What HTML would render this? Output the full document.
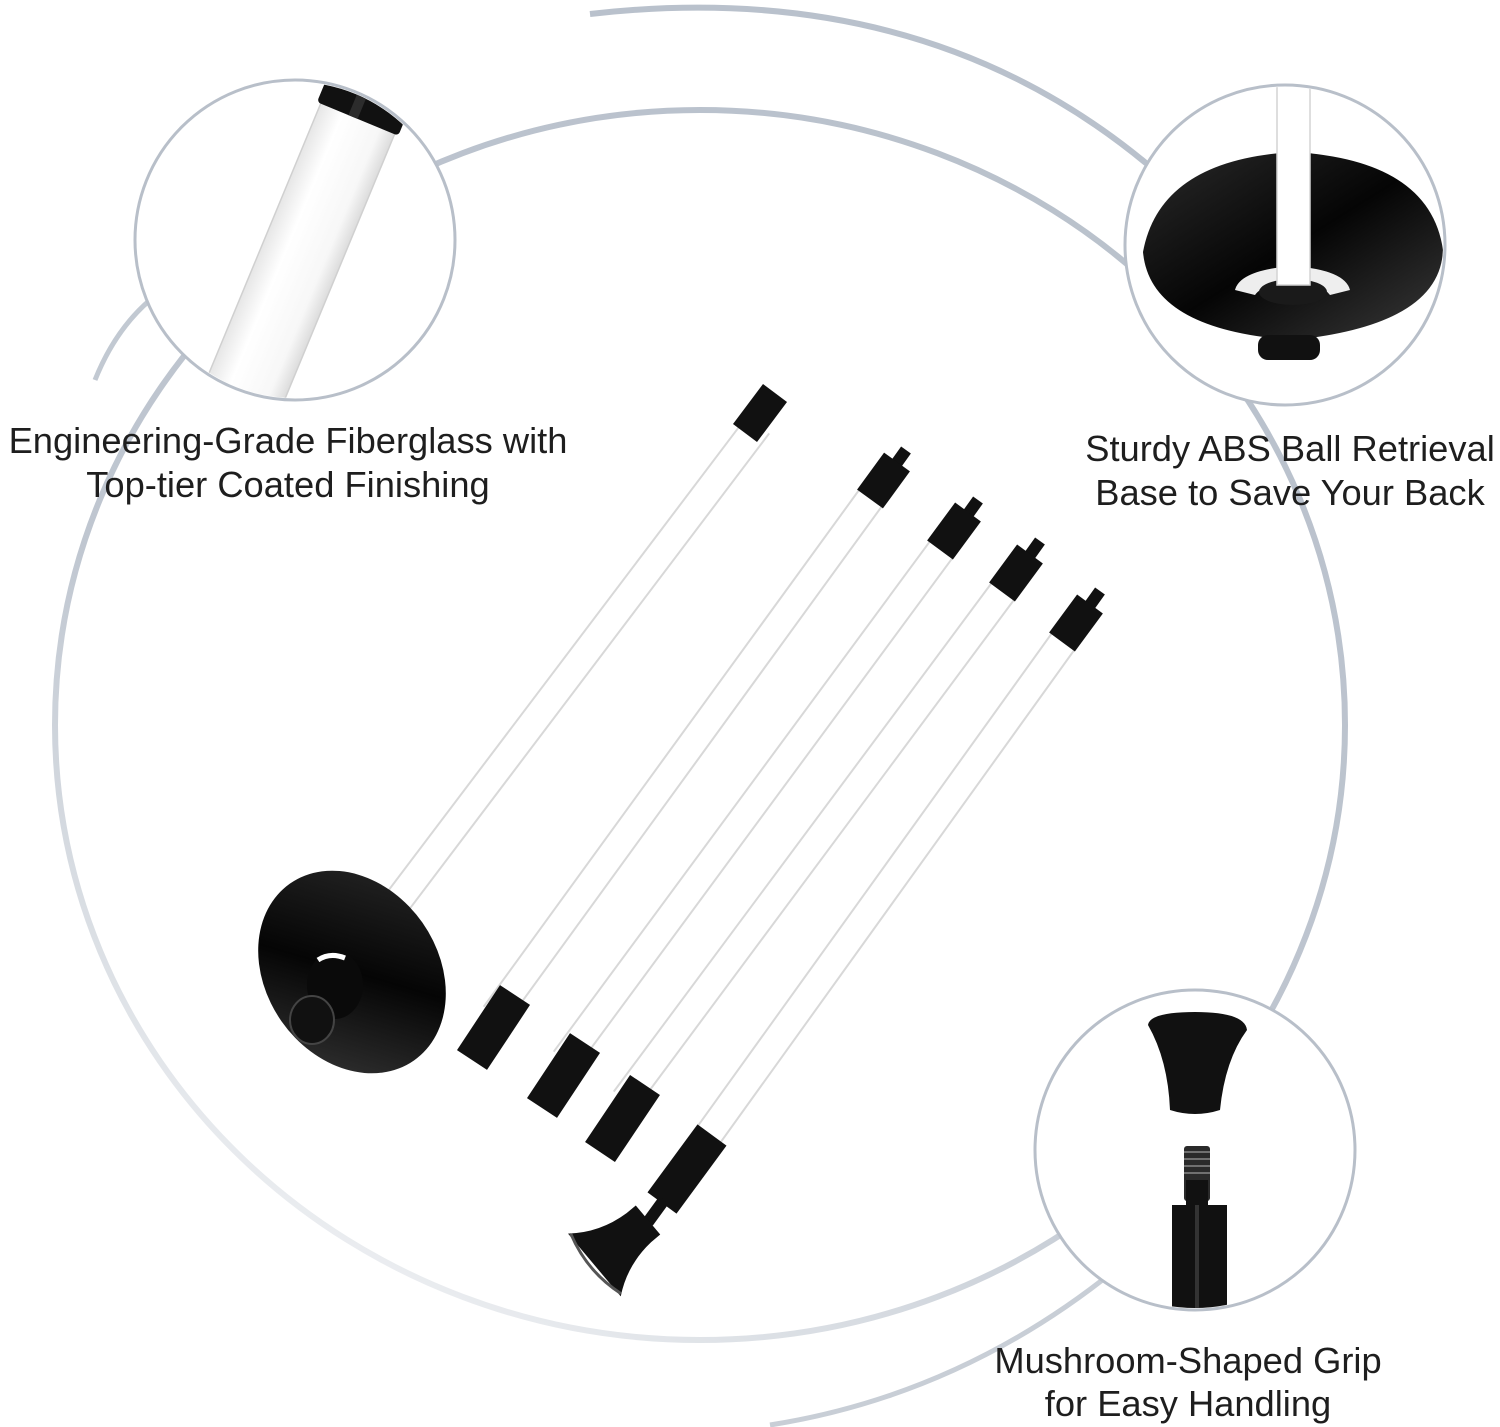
<!DOCTYPE html>
<html><head><meta charset="utf-8"><style>
html,body{margin:0;padding:0;background:#fff;overflow:hidden}
svg{display:block}
text{font-family:"Liberation Sans",sans-serif;font-size:36.3px;fill:#1e1e1e}
</style></head><body>
<svg width="1500" height="1427" viewBox="0 0 1500 1427" xmlns="http://www.w3.org/2000/svg">
<defs>
<linearGradient id="disk" x1="0" y1="0" x2="1" y2="1"><stop offset="0" stop-color="#2a2a2a"/><stop offset="0.5" stop-color="#050505"/><stop offset="1" stop-color="#3a3a3a"/></linearGradient>
<linearGradient id="fadeA" x1="0.8" y1="0" x2="0.2" y2="1"><stop offset="0" stop-color="#b9c1cc"/><stop offset="0.6" stop-color="#bfc6d0"/><stop offset="0.85" stop-color="#dde1e6"/><stop offset="1" stop-color="#f5f6f8"/></linearGradient>
<linearGradient id="rodg" x1="0" y1="0" x2="1" y2="0"><stop offset="0" stop-color="#e6e6e6"/><stop offset="0.3" stop-color="#fff"/><stop offset="0.8" stop-color="#f7f7f7"/><stop offset="1" stop-color="#dcdcdc"/></linearGradient>
</defs>
<ellipse cx="700" cy="725" rx="645" ry="615" fill="none" stroke="url(#fadeA)" stroke-width="6"/>
<path d="M590 14 Q930 -25 1160 175" fill="none" stroke="#b9c1cc" stroke-width="6"/>
<path d="M150 300 Q115 330 95 380" fill="none" stroke="#c2c9d2" stroke-width="5"/>
<path d="M1115 1270 Q960 1395 770 1425" fill="none" stroke="#c8ced6" stroke-width="5"/>

<circle cx="295" cy="240" r="160" fill="#fff" stroke="#b8bfc9" stroke-width="3"/>
<circle cx="1285" cy="245" r="160" fill="#fff" stroke="#b8bfc9" stroke-width="3"/>
<circle cx="1195" cy="1150" r="160" fill="#fff" stroke="#b8bfc9" stroke-width="3"/>

<clipPath id="c1"><circle cx="295" cy="240" r="158"/></clipPath>
<g clip-path="url(#c1)">
<g transform="translate(358,118) rotate(22.5)">
<rect x="-40" y="0" width="80" height="360" fill="url(#rodg)" stroke="#d0d0d0" stroke-width="1.5"/>
<rect x="-44" y="-45" width="88" height="46" rx="4" fill="#111"/>
<rect x="-10" y="-45" width="10" height="46" fill="#2c2c2c"/>
</g>
</g>
<clipPath id="c2"><circle cx="1285" cy="245" r="158"/></clipPath>
<g clip-path="url(#c2)">
<path d="M1143 252 Q1160 160 1293 152 Q1430 160 1443 250 Q1440 325 1293 340 Q1150 330 1143 252 Z" fill="url(#disk)"/>
<rect x="1258" y="335" width="62" height="25" rx="10" fill="#111"/>
<path d="M1235 290 Q1240 270 1293 266 Q1345 270 1350 290 L1330 295 Q1320 282 1293 282 Q1262 284 1255 295 Z" fill="#eee"/>
<ellipse cx="1293" cy="292" rx="34" ry="13" fill="#1a1a1a"/>
<rect x="1277" y="60" width="33" height="225" fill="#fff" stroke="#d4d4d4" stroke-width="1.5"/>
</g>
<clipPath id="c3"><circle cx="1195" cy="1150" r="158"/></clipPath>
<g clip-path="url(#c3)">
<path d="M1148 1025 Q1150 1012 1195 1012 Q1245 1012 1247 1030 Q1225 1060 1220 1110 Q1195 1118 1170 1110 Q1168 1060 1148 1025 Z" fill="#111"/>
<rect x="1184" y="1146" width="26" height="55" rx="3" fill="#2a2a2a"/>
<g stroke="#888" stroke-width="1.5"><line x1="1184" y1="1152" x2="1210" y2="1152"/><line x1="1184" y1="1159" x2="1210" y2="1159"/><line x1="1184" y1="1166" x2="1210" y2="1166"/><line x1="1184" y1="1173" x2="1210" y2="1173"/></g>
<rect x="1186" y="1180" width="22" height="30" fill="#111"/>
<rect x="1172" y="1205" width="55" height="110" fill="#111"/>
<rect x="1195" y="1205" width="4" height="110" fill="#333"/>
</g>

<g stroke-linecap="butt">
<line x1="758" y1="425" x2="395" y2="905" stroke="#d8d8d8" stroke-width="30"/>
<line x1="758" y1="425" x2="395" y2="905" stroke="#fff" stroke-width="26"/>
<line x1="775" y1="393" x2="745" y2="433" stroke="#111" stroke-width="30"/>
</g>
<ellipse cx="352" cy="972" rx="108" ry="86" transform="rotate(55 352 972)" fill="url(#disk)"/>
<ellipse cx="335" cy="985" rx="28" ry="34" fill="#0a0a0a"/>
<path d="M318 960 Q330 952 345 958" fill="none" stroke="#fff" stroke-width="5"/>
<ellipse cx="312" cy="1020" rx="22" ry="24" fill="#111" stroke="#444" stroke-width="2"/>
<g stroke-linecap="butt">
<line x1="880" y1="485" x2="495" y2="1015" stroke="#d8d8d8" stroke-width="30"/>
<line x1="880" y1="485" x2="495" y2="1015" stroke="#fff" stroke-width="26"/>
<line x1="906" y1="450" x2="896" y2="464" stroke="#111" stroke-width="12"/>
<line x1="897" y1="462" x2="870" y2="499" stroke="#111" stroke-width="32"/>
<line x1="515" y1="995" x2="472" y2="1060" stroke="#111" stroke-width="36"/>
<line x1="952" y1="535" x2="565" y2="1060" stroke="#d8d8d8" stroke-width="30"/>
<line x1="952" y1="535" x2="565" y2="1060" stroke="#fff" stroke-width="26"/>
<line x1="978" y1="500" x2="968" y2="514" stroke="#111" stroke-width="12"/>
<line x1="968" y1="512" x2="940" y2="550" stroke="#111" stroke-width="32"/>
<line x1="585" y1="1043" x2="542" y2="1108" stroke="#111" stroke-width="36"/>
<line x1="1015" y1="575" x2="625" y2="1100" stroke="#d8d8d8" stroke-width="30"/>
<line x1="1015" y1="575" x2="625" y2="1100" stroke="#fff" stroke-width="26"/>
<line x1="1040" y1="541" x2="1030" y2="555" stroke="#111" stroke-width="12"/>
<line x1="1030" y1="554" x2="1002" y2="592" stroke="#111" stroke-width="32"/>
<line x1="645" y1="1085" x2="600" y2="1152" stroke="#111" stroke-width="36"/>
<line x1="1075" y1="625" x2="705" y2="1140" stroke="#d8d8d8" stroke-width="30"/>
<line x1="1075" y1="625" x2="705" y2="1140" stroke="#fff" stroke-width="26"/>
<line x1="1100" y1="591" x2="1090" y2="605" stroke="#111" stroke-width="12"/>
<line x1="1090" y1="604" x2="1062" y2="642" stroke="#111" stroke-width="32"/>
<line x1="712" y1="1135" x2="662" y2="1203" stroke="#111" stroke-width="36"/>
<line x1="664" y1="1200" x2="648" y2="1222" stroke="#111" stroke-width="12"/>
</g>
<g transform="translate(648,1220) rotate(50)">
<path d="M-19 0 L19 0 L19 12 Q21 45 41 70 L-41 70 Q-21 45 -19 12 Z" fill="#111"/>
<path d="M-39 68 Q0 80 39 68" fill="none" stroke="#555" stroke-width="3"/>
</g>

<text x="288" y="453" text-anchor="middle">Engineering-Grade Fiberglass with</text>
<text x="288" y="497" text-anchor="middle">Top-tier Coated Finishing</text>
<text x="1290" y="461" text-anchor="middle">Sturdy ABS Ball Retrieval</text>
<text x="1290" y="505" text-anchor="middle">Base to Save Your Back</text>
<text x="1188" y="1373" text-anchor="middle">Mushroom-Shaped Grip</text>
<text x="1188" y="1416" text-anchor="middle">for Easy Handling</text>
</svg>
</body></html>
